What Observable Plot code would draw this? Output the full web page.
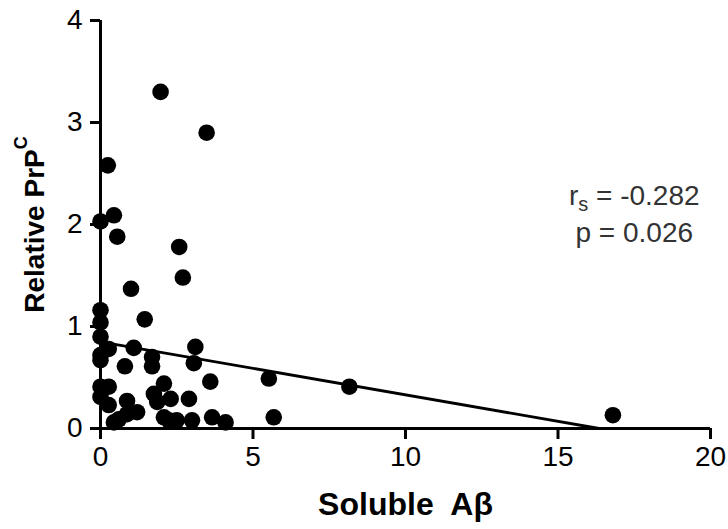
<!DOCTYPE html>
<html>
<head>
<meta charset="utf-8">
<script src="https://cdn.jsdelivr.net/npm/d3@7"></script>
<script src="https://cdn.jsdelivr.net/npm/@observablehq/plot@0.6"></script>
<style>
  html, body { margin: 0; padding: 0; background: #fff; }
  #chart svg { display: block; font-family: "Liberation Sans", Arial, sans-serif; }
</style>
</head>
<body>
<div id="chart"></div>
<script>
// Soluble Aβ (x) values
const solubleAb = [
  1.97, 3.48, 0.24, 0.44, 0.0, 0.55, 2.58, 2.70, 1.0, 1.45,
  0.0, 0.0, 0.0, 1.09, 0.27, 3.11, 0.0, 0.0, 1.69, 1.69,
  0.80, 3.06, 5.52, 3.6, 2.08, 0.0, 0.27, 0.0, 1.75, 2.30,
  2.9, 0.87, 1.86, 0.27, 1.2, 0.87, 0.6, 0.44, 2.08, 2.24,
  2.5, 3.0, 3.66, 4.1, 5.68, 8.16, 16.8
];
// Relative PrPC (y) values
const relativePrPC = [
  3.30, 2.90, 2.58, 2.09, 2.03, 1.88, 1.78, 1.48, 1.37, 1.07,
  1.16, 1.04, 0.90, 0.79, 0.78, 0.80, 0.72, 0.67, 0.70, 0.61,
  0.61, 0.64, 0.49, 0.46, 0.44, 0.41, 0.41, 0.31, 0.34, 0.29,
  0.29, 0.27, 0.26, 0.23, 0.16, 0.14, 0.09, 0.06, 0.11, 0.08,
  0.08, 0.08, 0.11, 0.06, 0.11, 0.41, 0.13
];
// Regression line end points (clipped at y = 0)
const fitX = [0, 16.35];
const fitY = [0.85, 0];
// Tick values
const xTicks = [0, 5, 10, 15, 20];
const yTicks = [0, 1, 2, 3, 4];
// Texts
const xLabel = "Soluble  A\u03B2";
const yLabel = "Relative PrP";
const yLabelSup = "C";
const statLines = ["r|s| = -0.282", "p = 0.026"];
const statX = [17.5, 17.5];
const statY = [2.28, 1.92];

const points = solubleAb.map((x, i) => ({x, y: relativePrPC[i]}));
const fit = fitX.map((x, i) => ({x, y: fitY[i]}));
const stats = statLines.map((t, i) => ({t, x: statX[i], y: statY[i]}));

const chart = Plot.plot({
  width: 728,
  height: 529,
  marginLeft: 100,
  marginRight: 18,
  marginTop: 20,
  marginBottom: 101,
  style: {fontFamily: "Liberation Sans, Arial, sans-serif", color: "#000", background: "#fff"},
  x: {domain: [0, 20]},
  y: {domain: [0, 4]},
  marks: [
    Plot.axisX({ticks: xTicks, tickSize: 11, tickPadding: 7, fontSize: 28, strokeWidth: 3, label: null, tickFormat: d3.format("d")}),
    Plot.axisY({ticks: yTicks, tickSize: 10, tickPadding: 8, fontSize: 28, strokeWidth: 3, label: null, tickFormat: d3.format("d")}),
    Plot.ruleX([0], {y1: 0, y2: 4, strokeWidth: 3, stroke: "#000"}),
    Plot.ruleY([0], {x1: 0, x2: 20, strokeWidth: 3, stroke: "#000"}),
    Plot.line(fit, {x: "x", y: "y", stroke: "#000", strokeWidth: 2.8}),
    Plot.dot(points, {x: "x", y: "y", r: 8.3, fill: "#000", stroke: "none"}),
    Plot.text(stats, {x: "x", y: "y", text: "t", fontSize: 28, fill: "#333", textAnchor: "middle", lineAnchor: "middle", className: "stat"}),
    Plot.text([xLabel], {frameAnchor: "bottom", dy: 76, textAnchor: "middle", lineAnchor: "middle", fontSize: 32, fontWeight: "bold", fill: "#000"}),
    Plot.text([yLabel + yLabelSup], {frameAnchor: "left", dx: -57, rotate: -90, textAnchor: "middle", lineAnchor: "bottom", fontSize: 28, fontWeight: "bold", fill: "#000", className: "ylab"})
  ]
});

// superscript / subscript rendering
d3.select(chart).selectAll(".ylab text").each(function() {
  const t = d3.select(this);
  t.text(null);
  t.append("tspan").text(yLabel);
  t.append("tspan").attr("font-size", 18).attr("dy", "-0.9em").text(yLabelSup);
});
d3.select(chart).selectAll(".stat text").each(function() {
  const t = d3.select(this);
  const s = t.text();
  if (s.includes("|")) {
    const parts = s.split("|");
    t.text(null);
    t.append("tspan").text(parts[0]);
    t.append("tspan").attr("font-size", 20).attr("dy", "0.3em").text(parts[1]);
    t.append("tspan").attr("dy", "-0.21em").text(parts[2]);
  }
});

document.getElementById("chart").appendChild(chart);
</script>
</body>
</html>
